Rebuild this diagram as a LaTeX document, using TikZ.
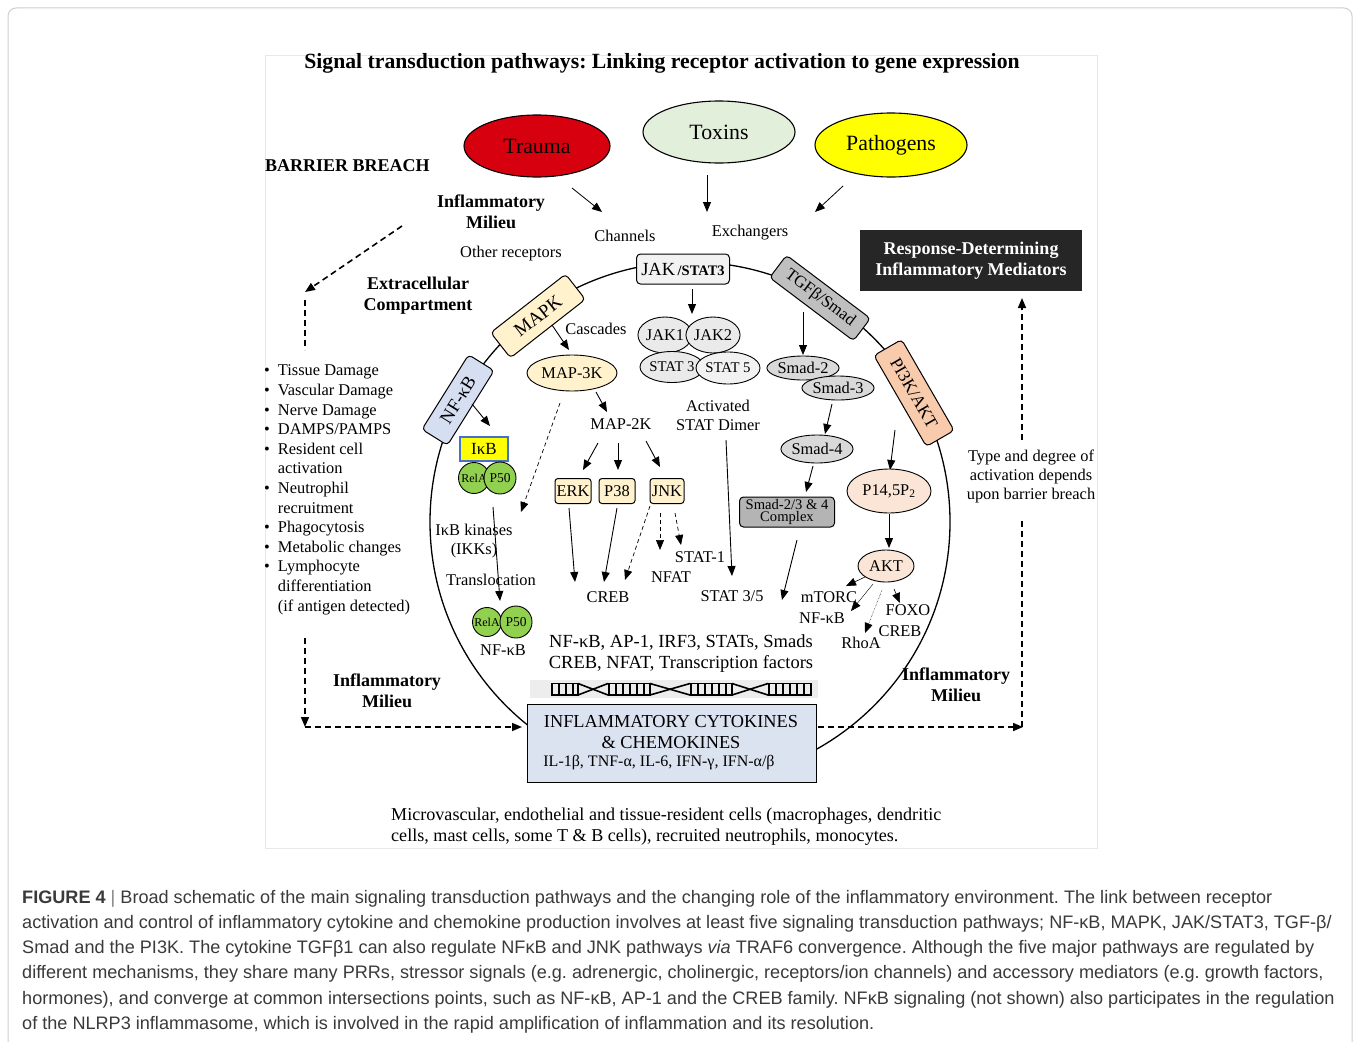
\documentclass[tikz,border=0pt]{standalone}
\usepackage{fontspec}
\setmainfont{Liberation Serif}
\newfontfamily\capfont{Liberation Sans}
\usetikzlibrary{shapes.geometric,arrows.meta}
\definecolor{traumared}{RGB}{215,0,15}
\definecolor{toxgreen}{HTML}{E2EFDA}
\definecolor{pathyellow}{HTML}{FFFF00}
\definecolor{mapkyel}{HTML}{FFF2CC}
\definecolor{nfkbblue}{HTML}{D6DFF2}
\definecolor{jakgray}{HTML}{F2F2F2}
\definecolor{tgfgray}{HTML}{BFBFBF}
\definecolor{pipeach}{HTML}{F8CBAD}
\definecolor{smadgray}{HTML}{D9D9D9}
\definecolor{cplxgray}{HTML}{B4B4B4}
\definecolor{peachlt}{HTML}{FBE5D6}
\definecolor{relagreen}{HTML}{92D050}
\definecolor{ikbblue}{HTML}{4472C4}
\definecolor{cytoblue}{HTML}{DCE3F0}
\definecolor{respblack}{HTML}{262626}
\definecolor{capgray}{HTML}{3A3A3A}
\definecolor{framegray}{HTML}{CFCFCF}
\frenchspacing
\begin{document}
\begin{tikzpicture}[x=1pt,y=-1pt,
  lbl/.style={font=\fontsize{16.4}{19}\selectfont, inner sep=0, align=center},
  blbl/.style={font=\fontsize{18}{21}\selectfont\bfseries, inner sep=0, align=center},
  bigell/.style={ellipse, draw, line width=1.1pt, inner sep=0, font=\fontsize{21.8}{24}\selectfont},
  ell/.style={ellipse, draw, line width=0.9pt, inner sep=0, font=\fontsize{16.4}{19}\selectfont},
  rbox/.style={rectangle, rounded corners=4pt, draw, line width=1pt, inner sep=0},
  arr/.style={-{Triangle[length=10pt,width=8pt]}, line width=0.9pt},
  darr/.style={arr, dashed, dash pattern=on 4pt off 3pt},
  thickdash/.style={line width=1.8pt, dash pattern=on 6pt off 4pt},
  captxt/.style={anchor=base west, inner sep=0, font=\capfont\fontsize{18.1}{22}\selectfont, text=capgray}
]
\clip (0,0) rectangle (1356,1041);
\fill[white] (0,0) rectangle (1356,1041);
\draw[framegray, line width=1pt, rounded corners=8pt] (8,8) rectangle (1352,1070);
\draw[black!9, line width=0.8pt] (265,55) rectangle (1097,848);

% title
\node[font=\fontsize{21.7}{24}\selectfont\bfseries, inner sep=0] (title) at (662,63) {Signal transduction pathways: Linking receptor activation to gene expression};

% stimuli
\node[bigell, fill=traumared, minimum width=146pt, minimum height=62pt] (trauma) at (537,146) {Trauma};
\node[bigell, fill=toxgreen, minimum width=152pt, minimum height=62pt] (toxins) at (719,132) {Toxins};
\node[bigell, fill=pathyellow, minimum width=152pt, minimum height=64pt] (pathogens) at (891,145) {Pathogens};
\coordinate (t1) at (572,188); \coordinate (t2) at (602,212);
\coordinate (x1) at (707,175); \coordinate (x2) at (707,212);
\coordinate (p1) at (843,186); \coordinate (p2) at (815,212);
\draw[arr, line width=0.8pt] (t1) -- (t2);
\draw[arr, line width=0.8pt] (x1) -- (x2);
\draw[arr, line width=0.8pt] (p1) -- (p2);

\node[blbl, anchor=west] (barrier) at (265,166) {BARRIER BREACH};
\node[blbl] (milieuA) at (491,212) {Inflammatory\\Milieu};
\node[lbl] (otherrec) at (511,254) {Other receptors};
\node[lbl] (channels) at (625,236) {Channels};
\node[lbl] (exchangers) at (750,233) {Exchangers};
\node[fill=respblack, text=white, font=\fontsize{18}{21}\selectfont\bfseries, align=center, minimum width=222pt, minimum height=61pt, inner sep=0] (resp) at (971,260.5) {Response-Determining\\Inflammatory Mediators};

% cell
\node[circle, draw, line width=1.3pt, minimum size=520pt, inner sep=0] (cell) at (690,522) {};

% receptors
\node[rbox, fill=jakgray, minimum width=93pt, minimum height=30pt] (jak) at (683,269) {{\fontsize{18.5}{19}\selectfont JAK} {\fontsize{14.5}{16}\selectfont\bfseries /STAT3}};
\node[rbox, fill=mapkyel, minimum width=95pt, minimum height=32pt, rotate=38, font=\fontsize{19}{20}\selectfont] (mapk) at (538,316) {MAPK};
\node[rbox, fill=nfkbblue, minimum width=88pt, minimum height=30pt, rotate=58, font=\fontsize{18.5}{20}\selectfont] (nfkb) at (458,400) {NF-κB};
\node[rbox, fill=tgfgray, minimum width=105pt, minimum height=28pt, rotate=-37, font=\fontsize{16.8}{18}\selectfont] (tgf) at (820,298) {TGFβ/Smad};
\node[rbox, fill=pipeach, minimum width=105pt, minimum height=32pt, rotate=-60, font=\fontsize{17.5}{18}\selectfont] (pi3k) at (914,393) {PI3K/AKT};

% JAK/STAT
\coordinate (j1) at (692,289); \coordinate (j2) at (692,314);
\draw[arr] (j1) -- (j2);
\node[ell, fill=jakgray!70!smadgray, minimum width=50pt, minimum height=36pt] (jak1) at (665,335) {JAK1};
\node[ell, fill=jakgray!70!smadgray, minimum width=54pt, minimum height=36pt] (jak2) at (713,335) {JAK2};
\node[ell, fill=jakgray!70!smadgray, minimum width=56pt, minimum height=31pt, font=\fontsize{14.8}{16}\selectfont] (stat3) at (672,367) {STAT 3};
\node[ell, fill=jakgray, minimum width=60pt, minimum height=32pt, font=\fontsize{14.8}{16}\selectfont] (stat5) at (728,368) {STAT 5};
\node[lbl] (dimer) at (718,415) {Activated\\STAT Dimer};
\coordinate (d1) at (726,440); \coordinate (d2) at (732,576);
\draw[arr] (d1) -- (d2);
\node[lbl] (stat35) at (732,596) {STAT 3/5};

% MAPK cascade
\coordinate (m1) at (552,325); \coordinate (m2) at (569,350);
\draw[arr] (m1) -- (m2);
\node[lbl] (cascades) at (596,329) {Cascades};
\node[ell, fill=mapkyel, minimum width=90pt, minimum height=36pt] (map3k) at (572,373) {MAP-3K};
\coordinate (m3) at (596,392); \coordinate (m4) at (607,412);
\draw[arr] (m3) -- (m4);
\node[lbl] (map2k) at (621,424) {MAP-2K};
\coordinate (e1) at (598,443); \coordinate (e2) at (583,470);
\coordinate (q1) at (618,443); \coordinate (q2) at (618,470);
\coordinate (k1) at (646,441); \coordinate (k2) at (660,467);
\draw[arr] (e1) -- (e2);
\draw[arr] (q1) -- (q2);
\draw[arr] (k1) -- (k2);
\node[rbox, rounded corners=3pt, fill=mapkyel, minimum width=36pt, minimum height=25pt, font=\fontsize{16.4}{18}\selectfont] (erk) at (573,491) {ERK};
\node[rbox, rounded corners=3pt, fill=mapkyel, minimum width=36pt, minimum height=25pt, font=\fontsize{16.4}{18}\selectfont] (p38) at (617,491) {P38};
\node[rbox, rounded corners=3pt, fill=mapkyel, minimum width=34pt, minimum height=25pt, font=\fontsize{16.4}{18}\selectfont] (jnk) at (667,491) {JNK};
\coordinate (e3) at (569,508); \coordinate (e4) at (575,582);
\coordinate (q3) at (617,508); \coordinate (q4) at (604,582);
\coordinate (k3) at (650,506); \coordinate (k4) at (625,580);
\coordinate (k5) at (660,513); \coordinate (k6) at (660,550);
\coordinate (k7) at (675,513); \coordinate (k8) at (681,545);
\draw[arr] (e3) -- (e4);
\draw[arr] (q3) -- (q4);
\draw[darr, line width=0.7pt] (k3) -- (k4);
\draw[darr, line width=0.7pt] (k5) -- (k6);
\draw[darr, line width=0.7pt] (k7) -- (k8);
\node[lbl] (stat1) at (700,557) {STAT-1};
\node[lbl] (nfat) at (671,577) {NFAT};
\node[lbl] (creb1) at (608,597) {CREB};
\coordinate (m5) at (560,403); \coordinate (m6) at (521,512);
\draw[darr, line width=0.7pt] (m5) -- (m6);

% NF-kB pathway
\coordinate (n1) at (472,404); \coordinate (n2) at (490,426);
\draw[arr] (n1) -- (n2);
\node[draw=ikbblue, fill=pathyellow, line width=1.2pt, minimum width=48pt, minimum height=24pt, inner sep=0, font=\fontsize{17}{19}\selectfont] (ikb) at (484,449) {IκB};
\node[circle, draw, line width=0.9pt, fill=relagreen, minimum size=31pt, inner sep=0, font=\fontsize{12}{13}\selectfont] (rela1) at (474,478) {RelA};
\node[circle, draw, line width=0.9pt, fill=relagreen, minimum size=32pt, inner sep=0, font=\fontsize{13.5}{15}\selectfont] (p501) at (500,478) {P50};
\node[lbl] (ikk) at (474,541) {IκB kinases\\(IKKs)};
\node[lbl] (transloc) at (491,580) {Translocation};
\coordinate (n3) at (493,507); \coordinate (n4) at (500,601);
\draw[arr] (n3) -- (n4);
\node[circle, draw, line width=0.9pt, fill=relagreen, minimum size=29pt, inner sep=0, font=\fontsize{12}{13}\selectfont] (rela2) at (487,622) {RelA};
\node[circle, draw, line width=0.9pt, fill=relagreen, minimum size=32pt, inner sep=0, font=\fontsize{13.5}{15}\selectfont] (p502) at (516,622) {P50};
\node[lbl] (nfkblab) at (503,650) {NF-κB};

% TGF / Smad
\coordinate (s1) at (803,312); \coordinate (s2) at (803,355);
\draw[arr] (s1) -- (s2);
\node[ell, fill=smadgray, minimum width=62pt, minimum height=24pt] (smad2) at (803,368) {Smad-2};
\node[ell, fill=smadgray, minimum width=68pt, minimum height=24pt] (smad3) at (838,388) {Smad-3};
\coordinate (s3) at (832,404); \coordinate (s4) at (825,434);
\draw[arr] (s3) -- (s4);
\node[ell, fill=smadgray, minimum width=70pt, minimum height=28pt] (smad4) at (817,449) {Smad-4};
\coordinate (s5) at (813,466); \coordinate (s6) at (806,492);
\draw[arr] (s5) -- (s6);
\node[rbox, fill=cplxgray, minimum width=95pt, minimum height=30pt, align=center, font=\fontsize{14.6}{12}\selectfont] (cplx) at (787,512) {Smad-2/3 \& 4\\Complex};
\coordinate (s7) at (797,540); \coordinate (s8) at (782,600);
\draw[arr] (s7) -- (s8);

% PI3K / AKT
\coordinate (a1) at (895,430); \coordinate (a2) at (890,470);
\draw[arr] (a1) -- (a2);
\node[ell, fill=peachlt, minimum width=84pt, minimum height=44pt] (pip) at (889,491) {P14,5P\textsubscript{2}};
\coordinate (a3) at (889,514); \coordinate (a4) at (889,548);
\draw[arr] (a3) -- (a4);
\node[ell, fill=peachlt, minimum width=56pt, minimum height=32pt] (akt) at (886,566) {AKT};
\coordinate (a5) at (865,577); \coordinate (a6) at (846,586);
\coordinate (a7) at (873,584); \coordinate (a8) at (851,611);
\coordinate (a9) at (882,590); \coordinate (a10) at (865,633);
\coordinate (a11) at (894,589); \coordinate (a12) at (900,603);
\draw[arr, line width=0.6pt] (a5) -- (a6);
\draw[arr, line width=0.4pt] (a7) -- (a8);
\draw[arr, line width=0.5pt, densely dotted] (a9) -- (a10);
\draw[arr, line width=0.6pt] (a11) -- (a12);
\node[lbl] (mtorc) at (829,597) {mTORC};
\node[lbl] (nfkb3) at (822,618) {NF-κB};
\node[lbl] (rhoa) at (861,643) {RhoA};
\node[lbl] (foxo) at (908,610) {FOXO};
\node[lbl] (creb2) at (900,631) {CREB};

% transcription factors and DNA
\node[lbl, font=\fontsize{18.5}{21}\selectfont] (tf) at (681,654) {NF-κB, AP-1, IRF3, STATs, Smads\\CREB, NFAT, Transcription factors};
\fill[black!7] (530,680) rectangle (818,698);
\foreach \a/\b in {551/578, 608/650, 690/732, 768/812}{
  \draw[line width=1.6pt] (\a,683.5) -- (\b,683.5);
  \draw[line width=1.6pt] (\a,695) -- (\b,695);
}
\foreach \r in {552,559,566,573,578, 609,616,623,630,637,644,650, 691,698,705,712,719,726,732, 769,776,783,790,797,804,811}{
  \draw[line width=2.4pt] (\r,683) -- (\r,695.5);
}
\foreach \a/\b in {578/608, 650/690, 732/768}{
  \draw[line width=1.6pt] (\a,683.5) -- (\b,695);
  \draw[line width=1.6pt] (\a,695) -- (\b,683.5);
}

% cytokines box
\node[draw, line width=1pt, fill=cytoblue, minimum width=289pt, minimum height=78pt, inner sep=0] (cyto) at (671.5,743) {};
\node[font=\fontsize{18.3}{21}\selectfont, inner sep=0, align=center] (cytoT) at (671,732) {INFLAMMATORY CYTOKINES\\\& CHEMOKINES};
\node[font=\fontsize{16}{18}\selectfont, inner sep=0] (cytoL) at (659,763) {IL-1β, TNF-α, IL-6, IFN-γ, IFN-α/β};

\node[lbl, align=left, anchor=west, font=\fontsize{18.1}{21}\selectfont] (cells) at (391,827) {Microvascular, endothelial and tissue-resident cells (macrophages, dendritic\\cells, mast cells, some T \& B cells), recruited neutrophils, monocytes.};

% left side
\coordinate (l1) at (402,226); \coordinate (l2) at (305,292);
\draw[arr, thickdash, line width=1.6pt] (l1) -- (l2);
\coordinate (l3) at (305,300); \coordinate (l4) at (305,350);
\draw[thickdash] (l3) -- (l4);
\node[blbl] (extra) at (418,296) {Extracellular\\Compartment};
\node[anchor=north west, inner sep=0, font=\fontsize{16.4}{19.6}\selectfont] (list) at (264,362) {\renewcommand{\arraystretch}{1.0}%
\begin{tabular}{@{}l@{\hspace{8pt}}l@{}}
\textbullet & Tissue Damage\\
\textbullet & Vascular Damage\\
\textbullet & Nerve Damage\\
\textbullet & DAMPS/PAMPS\\
\textbullet & Resident cell\\
 & activation\\
\textbullet & Neutrophil\\
 & recruitment\\
\textbullet & Phagocytosis\\
\textbullet & Metabolic changes\\
\textbullet & Lymphocyte\\
 & differentiation\\
 & (if antigen detected)
\end{tabular}};
\coordinate (l5) at (305,638); \coordinate (l6) at (305,727); \coordinate (l7) at (522,727);
\draw[arr, thickdash, line width=1.6pt] (l5) -- (l6);
\draw[arr, thickdash, line width=1.6pt] (l6) -- (l7);
\node[blbl] (milieuB) at (387,691) {Inflammatory\\Milieu};

% right side
\coordinate (r1) at (818,727); \coordinate (r2) at (1023,727);
\coordinate (r3) at (1022,727); \coordinate (r4) at (1022,520);
\coordinate (r5) at (1022,440); \coordinate (r6) at (1022,298);
\draw[arr, thickdash, line width=1.6pt] (r1) -- (r2);
\draw[thickdash] (r3) -- (r4);
\draw[arr, thickdash, line width=1.6pt] (r5) -- (r6);
\node[lbl] (typedeg) at (1031,476) {Type and degree of\\activation depends\\upon barrier breach};
\node[blbl] (milieuC) at (956,685) {Inflammatory\\Milieu};

% caption
\node[captxt] (cap1) at (22,903) {\textbf{FIGURE 4} {\color{black!50}|} Broad schematic of the main signaling transduction pathways and the changing role of the inflammatory environment. The link between receptor};
\node[captxt] (cap2) at (22,928) {activation and control of inflammatory cytokine and chemokine production involves at least five signaling transduction pathways; NF-κB, MAPK, JAK/STAT3, TGF-β/};
\node[captxt] (cap3) at (22,953) {Smad and the PI3K. The cytokine TGFβ1 can also regulate NFκB and JNK pathways \textit{via} TRAF6 convergence. Although the five major pathways are regulated by};
\node[captxt] (cap4) at (22,978) {different mechanisms, they share many PRRs, stressor signals (e.g. adrenergic, cholinergic, receptors/ion channels) and accessory mediators (e.g. growth factors,};
\node[captxt] (cap5) at (22,1004) {hormones), and converge at common intersections points, such as NF-κB, AP-1 and the CREB family. NFκB signaling (not shown) also participates in the regulation};
\node[captxt] (cap6) at (22,1029) {of the NLRP3 inflammasome, which is involved in the rapid amplification of inflammation and its resolution.};
\end{tikzpicture}
\end{document}
